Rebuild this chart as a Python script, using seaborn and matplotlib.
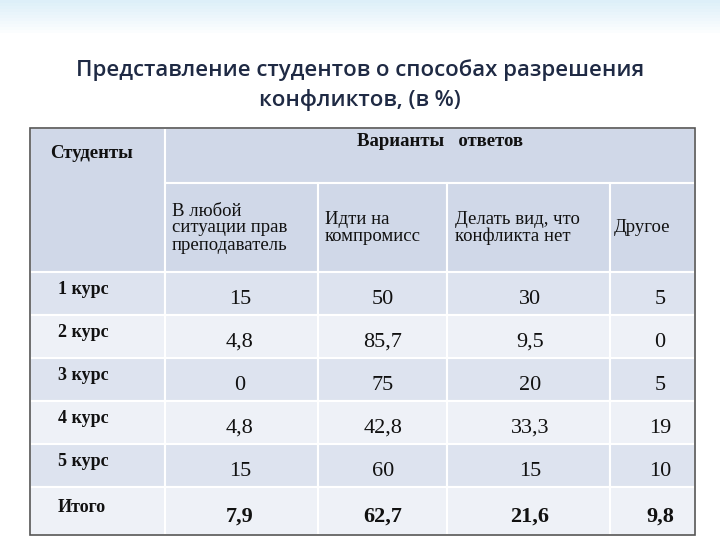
import matplotlib
matplotlib.use("Agg")
import matplotlib.pyplot as plt
import seaborn as sns
import numpy as np
from matplotlib.patches import Rectangle

sns.set_theme(style="white")
plt.rcParams['font.family'] = ['Liberation Serif', 'DejaVu Serif']

title = "Представление студентов о способах разрешения\nконфликтов, (в %)"
row_labels = ["1 курс", "2 курс", "3 курс", "4 курс", "5 курс", "Итого"]
col_labels = ["В любой\nситуации прав\nпреподаватель", "Идти на\nкомпромисс",
              "Делать вид, что\nконфликта нет", "Другое"]
values = [["15", "50", "30", "5"],
          ["4,8", "85,7", "9,5", "0"],
          ["0", "75", "20", "5"],
          ["4,8", "42,8", "33,3", "19"],
          ["15", "60", "15", "10"],
          ["7,9", "62,7", "21,6", "9,8"]]

fig = plt.figure(figsize=(7.2, 5.4), dpi=100)
ax = fig.add_axes([0, 0, 1, 1])
ax.set_xlim(0, 720); ax.set_ylim(540, 0); ax.axis("off")

# top decoration
for i, a in enumerate(np.linspace(0.35, 0.0, 12)):
    ax.add_patch(Rectangle((0, i * 3), 720, 3, color="#9fd3ee", alpha=a, lw=0))

ax.text(360, 85, title, ha="center", va="center", fontsize=16, fontweight="semibold",
        family=["Open Sans", "DejaVu Sans"], color="#1f2a44", linespacing=1.5)

xs = [30, 165, 318, 447, 610, 695]
ys = [128, 183, 272, 315, 358, 401, 444, 487, 535]
head = "#d0d8e8"
c1, c2 = "#dde3ef", "#eef1f7"

def cell(x0, x1, y0, y1, col):
    ax.add_patch(Rectangle((x0, y0), x1 - x0, y1 - y0, facecolor=col, edgecolor="white", lw=1.5))

cell(xs[0], xs[1], ys[0], ys[2], head)
cell(xs[1], xs[5], ys[0], ys[1], head)
for j in range(4):
    cell(xs[j + 1], xs[j + 2], ys[1], ys[2], head)
for i in range(6):
    col = c1 if i % 2 == 0 else c2
    cell(xs[0], xs[1], ys[i + 2], ys[i + 3], col)
    for j in range(4):
        cell(xs[j + 1], xs[j + 2], ys[i + 2], ys[i + 3], col)
ax.add_patch(Rectangle((xs[0], ys[0]), xs[5] - xs[0], ys[-1] - ys[0], fill=False,
                       edgecolor="#555555", lw=1.2))

ax.text(50, 153, "Студенты", fontsize=13.5, fontweight="bold", va="center", color="#111")
ax.text(440, 142, "Варианты   ответов", fontsize=13.5, fontweight="bold", ha="center",
        va="center", color="#111")
hx = [172, 325, 455, 614]
for j, lab in enumerate(col_labels):
    ax.text(hx[j], 228, lab, fontsize=13.5, va="center", ha="left", color="#111",
            linespacing=1.0)
centers = [240, 383, 530, 660]
for i, r in enumerate(row_labels):
    yc = (ys[i + 2] + ys[i + 3]) / 2
    ax.text(58, yc - 4, r, fontsize=13, fontweight="bold", va="center", color="#111")
    for j, v in enumerate(values[i]):
        ax.text(centers[j], yc + 6, v, fontsize=16, ha="center", va="center", color="#111",
                fontweight="bold" if i == 5 else "normal")

fig.savefig("out.png", dpi=100)
